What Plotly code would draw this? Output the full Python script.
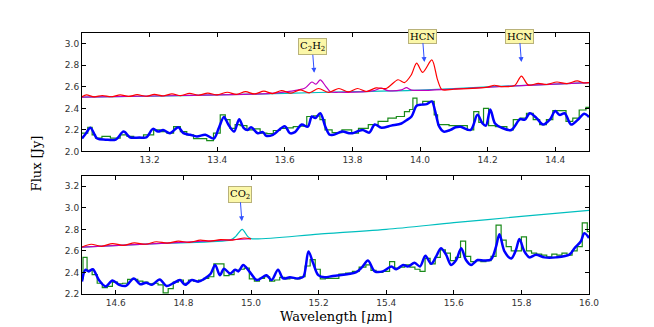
import plotly.graph_objects as go

# ---- top panel (13.0 - 14.5 um) ----
top_cont_wl = [13.0, 13.2, 13.4, 13.6, 13.8, 14.0, 14.2, 14.4, 14.5]
top_cont_fx = [2.505, 2.513, 2.525, 2.540, 2.555, 2.570, 2.600, 2.625, 2.640]

top_red_wl = [13.0, 13.013, 13.036, 13.06, 13.086, 13.113, 13.138, 13.163, 13.19, 13.214, 13.24,
              13.266, 13.292, 13.318, 13.345, 13.372, 13.40, 13.43, 13.457, 13.484, 13.51, 13.538,
              13.564, 13.59, 13.618, 13.645, 13.672, 13.70, 13.73, 13.76, 13.788, 13.815, 13.842,
              13.87, 13.90, 13.935, 13.954, 13.974, 13.99, 14.008, 14.035, 14.052, 14.065, 14.10,
              14.2, 14.22, 14.24, 14.28, 14.30, 14.32, 14.35, 14.375, 14.405, 14.435, 14.465, 14.485, 14.5]
top_red_fx = [2.508, 2.525, 2.507, 2.520, 2.508, 2.525, 2.511, 2.527, 2.513, 2.530, 2.515,
              2.535, 2.519, 2.540, 2.522, 2.542, 2.526, 2.550, 2.530, 2.555, 2.534, 2.560,
              2.538, 2.565, 2.542, 2.572, 2.545, 2.585, 2.549, 2.585, 2.553, 2.585, 2.557,
              2.590, 2.585, 2.666, 2.640, 2.710, 2.820, 2.734, 2.850, 2.665, 2.575, 2.578,
              2.598, 2.615, 2.603, 2.612, 2.700, 2.618, 2.632, 2.622, 2.645, 2.630, 2.655, 2.636, 2.640]

top_mag_wl = [13.0, 13.3, 13.5, 13.58, 13.62, 13.66, 13.68, 13.692, 13.705, 13.72, 13.735, 13.76,
              13.86, 13.885, 13.905, 13.945, 13.96, 13.975, 14.1, 14.3, 14.5]
top_mag_fx = [2.505, 2.52, 2.532, 2.545, 2.560, 2.590, 2.645, 2.625, 2.665, 2.610, 2.555, 2.550,
              2.562, 2.588, 2.565, 2.572, 2.592, 2.570, 2.580, 2.612, 2.640]

top_mod_wl = [13.0, 13.012, 13.025, 13.045, 13.07, 13.1, 13.123, 13.143, 13.17, 13.19, 13.21, 13.225,
              13.24, 13.26, 13.285, 13.30, 13.32, 13.34, 13.365, 13.39, 13.405, 13.42, 13.433, 13.45,
              13.465, 13.478, 13.49, 13.50, 13.52, 13.535, 13.545, 13.565, 13.60, 13.615, 13.63, 13.65,
              13.668, 13.68, 13.69, 13.705, 13.72, 13.733, 13.744, 13.77, 13.79, 13.80, 13.83, 13.85,
              13.866, 13.886, 13.915, 13.945, 13.96, 13.975, 13.99, 14.005, 14.02, 14.035, 14.044,
              14.057, 14.07, 14.09, 14.105, 14.12, 14.15, 14.17, 14.185, 14.195, 14.208, 14.222,
              14.242, 14.27, 14.296, 14.31, 14.325, 14.345, 14.364, 14.384, 14.40, 14.413, 14.428,
              14.447, 14.467, 14.486, 14.5]
top_mod_fx = [2.12, 2.17, 2.22, 2.12, 2.11, 2.11, 2.185, 2.13, 2.13, 2.13, 2.21, 2.185,
              2.20, 2.17, 2.225, 2.17, 2.155, 2.14, 2.155, 2.12, 2.22, 2.32, 2.25, 2.185,
              2.30, 2.22, 2.20, 2.225, 2.17, 2.18, 2.145, 2.155, 2.235, 2.17, 2.18, 2.25,
              2.23, 2.325, 2.31, 2.355, 2.23, 2.155, 2.155, 2.185, 2.17, 2.17, 2.20, 2.175,
              2.25, 2.22, 2.24, 2.26, 2.29, 2.325, 2.425, 2.435, 2.44, 2.465, 2.385,
              2.23, 2.185, 2.20, 2.225, 2.23, 2.20, 2.34, 2.26, 2.24, 2.39, 2.26,
              2.22, 2.20, 2.30, 2.295, 2.355, 2.31, 2.25, 2.295, 2.375, 2.34, 2.355,
              2.25, 2.295, 2.35, 2.32]

top_obs_edges = [13.0, 13.017, 13.03, 13.04, 13.059, 13.084, 13.113, 13.133, 13.153, 13.182, 13.212,
                 13.231, 13.251, 13.271, 13.291, 13.31, 13.33, 13.369, 13.389, 13.409, 13.424, 13.438,
                 13.453, 13.468, 13.488, 13.507, 13.527, 13.547, 13.566, 13.586, 13.606, 13.625,
                 13.645, 13.665, 13.685, 13.704, 13.719, 13.74, 13.769, 13.798, 13.818, 13.847,
                 13.876, 13.905, 13.93, 13.954, 13.969, 13.979, 13.991, 14.008, 14.042, 14.052,
                 14.086, 14.12, 14.14, 14.159, 14.174, 14.188, 14.203, 14.223, 14.257, 14.276,
                 14.296, 14.315, 14.335, 14.354, 14.374, 14.393, 14.413, 14.432, 14.452, 14.471,
                 14.491, 14.5]
top_obs_fx = [2.17, 2.225, 2.155, 2.125, 2.14, 2.125, 2.155, 2.14, 2.125, 2.155, 2.20,
              2.185, 2.17, 2.23, 2.185, 2.155, 2.12, 2.10, 2.17, 2.34, 2.295, 2.215,
              2.25, 2.24, 2.20, 2.21, 2.17, 2.165, 2.195, 2.215, 2.22, 2.23,
              2.235, 2.325, 2.33, 2.295, 2.20, 2.175, 2.20, 2.17, 2.215, 2.25,
              2.28, 2.31, 2.325, 2.37, 2.39, 2.495, 2.435, 2.465, 2.34, 2.25,
              2.24, 2.24, 2.20, 2.37, 2.27, 2.40, 2.24, 2.23, 2.20, 2.295,
              2.31, 2.355, 2.295, 2.25, 2.295, 2.38, 2.38, 2.28, 2.31, 2.385,
              2.41]

# ---- bottom panel (14.5 - 16.0 um) ----
bot_cont_wl = [14.5, 14.75, 14.94, 14.955, 14.974, 14.99, 15.0, 15.2, 15.4, 15.6, 15.8, 16.0]
bot_cont_fx = [2.635, 2.672, 2.702, 2.735, 2.800, 2.735, 2.714, 2.756, 2.800, 2.862, 2.920, 2.976]

bot_red_wl = [14.5, 14.527, 14.558, 14.59, 14.622, 14.655, 14.688, 14.72, 14.752, 14.785, 14.818,
              14.85, 14.88, 14.91, 14.945, 14.98, 15.0]
bot_red_fx = [2.636, 2.662, 2.643, 2.668, 2.652, 2.675, 2.662, 2.685, 2.672, 2.690, 2.680,
              2.700, 2.690, 2.705, 2.700, 2.720, 2.712]

bot_mag_wl = [14.5, 14.75, 15.0]
bot_mag_fx = [2.636, 2.673, 2.713]

bot_mod_wl = [14.5, 14.51, 14.52, 14.532, 14.55, 14.57, 14.59, 14.61, 14.63, 14.653, 14.672, 14.69,
              14.707, 14.73, 14.75, 14.77, 14.79, 14.805, 14.825, 14.845, 14.864, 14.88, 14.894,
              14.908, 14.92, 14.938, 14.953, 14.963, 14.977, 14.995, 15.017, 15.036, 15.046, 15.061,
              15.08, 15.095, 15.115, 15.14, 15.155, 15.17, 15.184, 15.199, 15.218, 15.242, 15.31,
              15.33, 15.346, 15.366, 15.39, 15.415, 15.43, 15.45, 15.464, 15.484, 15.5, 15.516,
              15.533, 15.548, 15.562, 15.577, 15.592, 15.607, 15.622, 15.636, 15.651, 15.67, 15.69,
              15.71, 15.725, 15.735, 15.75, 15.77, 15.784, 15.794, 15.809, 15.824, 15.843, 15.868,
              15.902, 15.942, 15.957, 15.976, 15.986, 16.0]
bot_mod_fx = [2.315, 2.425, 2.41, 2.43, 2.33, 2.27, 2.325, 2.285, 2.275, 2.345, 2.29, 2.305,
              2.285, 2.335, 2.275, 2.30, 2.33, 2.285, 2.33, 2.315, 2.345, 2.385, 2.47,
              2.375, 2.435, 2.39, 2.425, 2.41, 2.47, 2.41, 2.33, 2.36, 2.375, 2.33,
              2.425, 2.345, 2.355, 2.345, 2.36, 2.595, 2.485, 2.375, 2.355, 2.368, 2.40,
              2.455, 2.51, 2.41, 2.41, 2.455, 2.43, 2.47, 2.455, 2.49, 2.455, 2.555,
              2.48, 2.55, 2.625, 2.565, 2.47, 2.515, 2.625, 2.515, 2.47, 2.515, 2.51,
              2.52, 2.64, 2.755, 2.595, 2.53, 2.61, 2.71, 2.595, 2.54, 2.565, 2.54,
              2.54, 2.565, 2.625, 2.69, 2.765, 2.72]

bot_obs_edges = [14.5, 14.503, 14.515, 14.53, 14.545, 14.56, 14.575, 14.59, 14.605, 14.62, 14.635,
                 14.65, 14.665, 14.68, 14.695, 14.71, 14.725, 14.74, 14.755, 14.77, 14.785, 14.80,
                 14.815, 14.83, 14.845, 14.86, 14.875, 14.89, 14.905, 14.92, 14.935, 14.95, 14.965,
                 14.98, 14.995, 15.01, 15.025, 15.04, 15.055, 15.07, 15.085, 15.10, 15.115, 15.13,
                 15.145, 15.16, 15.175, 15.19, 15.205, 15.22, 15.26, 15.28, 15.30, 15.32, 15.34,
                 15.355, 15.37, 15.39, 15.41, 15.425, 15.44, 15.455, 15.47, 15.485, 15.50, 15.515,
                 15.53, 15.545, 15.56, 15.575, 15.59, 15.605, 15.62, 15.635, 15.65, 15.665, 15.68,
                 15.695, 15.71, 15.725, 15.74, 15.755, 15.77, 15.785, 15.80, 15.815, 15.83, 15.845,
                 15.86, 15.875, 15.89, 15.905, 15.92, 15.935, 15.95, 15.965, 15.98, 15.995, 16.0]
bot_obs_fx = [2.34, 2.54, 2.42, 2.38, 2.30, 2.26, 2.27, 2.31, 2.295, 2.30, 2.335,
              2.335, 2.32, 2.31, 2.295, 2.30, 2.285, 2.21, 2.25, 2.31, 2.33, 2.30,
              2.33, 2.32, 2.33, 2.345, 2.36, 2.48, 2.48, 2.37, 2.38, 2.42, 2.43,
              2.44, 2.34, 2.32, 2.345, 2.36, 2.32, 2.33, 2.355, 2.34, 2.35, 2.34,
              2.36, 2.46, 2.52, 2.43, 2.34, 2.345, 2.385, 2.395, 2.41, 2.45, 2.47,
              2.42, 2.40, 2.41, 2.50, 2.44, 2.45, 2.47, 2.45, 2.43, 2.41, 2.53,
              2.48, 2.54, 2.61, 2.58, 2.51, 2.54, 2.69, 2.55, 2.50, 2.51, 2.50,
              2.51, 2.55, 2.84, 2.70, 2.64, 2.60, 2.60, 2.73, 2.60, 2.58, 2.57,
              2.56, 2.545, 2.57, 2.56, 2.58, 2.56, 2.60, 2.64, 2.86, 2.78]

# molecule labels: (text, wavelength of arrow tip, flux of arrow tip, panel)
mol_text = ["C<sub>2</sub>H<sub>2</sub>", "HCN", "HCN", "CO<sub>2</sub>"]
mol_wl = [13.687, 14.013, 14.30, 14.973]
mol_fx = [2.73, 2.83, 2.83, 2.875]
mol_panel = [1, 1, 1, 2]

C_CYAN, C_MAG, C_RED = "#00bfbf", "#bf00bf", "#ff0000"
C_OBS, C_MOD = "#1a8a1a", "#0000ff"

fig = go.Figure()


def add_panel(ax, cont, red, mag, mod, obs):
    xa, ya = ("x", "y") if ax == 1 else ("x2", "y2")
    fig.add_trace(go.Scatter(x=cont[0], y=cont[1], mode="lines", xaxis=xa, yaxis=ya,
                             line=dict(color=C_CYAN, width=1.2, shape="spline", smoothing=0.8)))
    fig.add_trace(go.Scatter(x=mag[0], y=mag[1], mode="lines", xaxis=xa, yaxis=ya,
                             line=dict(color=C_MAG, width=1.2, shape="spline", smoothing=0.8)))
    fig.add_trace(go.Scatter(x=red[0], y=red[1], mode="lines", xaxis=xa, yaxis=ya,
                             line=dict(color=C_RED, width=1.2, shape="spline", smoothing=0.8)))
    fig.add_trace(go.Scatter(x=obs[0], y=list(obs[1]) + [obs[1][-1]], mode="lines",
                             xaxis=xa, yaxis=ya, line=dict(color=C_OBS, width=1.2, shape="hv")))
    fig.add_trace(go.Scatter(x=mod[0], y=mod[1], mode="lines", xaxis=xa, yaxis=ya,
                             line=dict(color=C_MOD, width=2.5, shape="spline", smoothing=0.9)))


add_panel(1, (top_cont_wl, top_cont_fx), (top_red_wl, top_red_fx), (top_mag_wl, top_mag_fx),
          (top_mod_wl, top_mod_fx), (top_obs_edges, top_obs_fx))
add_panel(2, (bot_cont_wl, bot_cont_fx), (bot_red_wl, bot_red_fx), (bot_mag_wl, bot_mag_fx),
          (bot_mod_wl, bot_mod_fx), (bot_obs_edges, bot_obs_fx))

for t, wl, fx, p in zip(mol_text, mol_wl, mol_fx, mol_panel):
    fig.add_annotation(x=wl, y=fx, xref="x" if p == 1 else "x2", yref="y" if p == 1 else "y2",
                       text=t, showarrow=True, ax=-2, ay=-26 if p == 1 else -27,
                       arrowhead=2, arrowsize=1, arrowwidth=1, arrowcolor="#3050ff",
                       bgcolor="#fbf7a8", bordercolor="#b9b27a", borderwidth=1, borderpad=1,
                       font=dict(family="DejaVu Serif", size=10, color="black"))

axis_common = dict(showline=True, linecolor="black", linewidth=1, mirror="ticks",
                   ticks="inside", ticklen=4, tickcolor="black", showgrid=False, zeroline=False,
                   tickfont=dict(family="DejaVu Sans", size=9, color="#333333"))

# the page adds an 8px body margin, so the margins below are shifted by 8px
fig.add_annotation(text="Flux [Jy]", xref="paper", yref="paper", x=-0.089, y=0.5,
                   xanchor="center", yanchor="middle", textangle=-90, showarrow=False,
                   font=dict(family="DejaVu Serif", size=13, color="black"))
fig.add_annotation(text="Wavelength [<i>μ</i>m]", xref="paper", yref="paper", x=0.5, y=-0.085,
                   xanchor="center", yanchor="middle", showarrow=False,
                   font=dict(family="DejaVu Serif", size=13, color="black"))

fig.update_layout(
    width=654, height=327,
    margin=dict(l=74, r=73, t=25, b=41),
    plot_bgcolor="white", paper_bgcolor="white",
    showlegend=False,
    xaxis=dict(domain=[0, 1], range=[13.0, 14.5], anchor="y",
               tickvals=[13.2, 13.4, 13.6, 13.8, 14.0, 14.2, 14.4],
               ticktext=["13.2", "13.4", "13.6", "13.8", "14.0", "14.2", "14.4"], **axis_common),
    yaxis=dict(domain=[0.546, 1], range=[2.0, 3.1], anchor="x",
               tickvals=[2.0, 2.2, 2.4, 2.6, 2.8, 3.0], tickformat=".1f", **axis_common),
    xaxis2=dict(domain=[0, 1], range=[14.5, 16.0], anchor="y2",
                tickvals=[14.6, 14.8, 15.0, 15.2, 15.4, 15.6, 15.8, 16.0], tickformat=".1f",
                **axis_common),
    yaxis2=dict(domain=[0, 0.454], range=[2.2, 3.3], anchor="x2",
                tickvals=[2.2, 2.4, 2.6, 2.8, 3.0, 3.2], tickformat=".1f", **axis_common),
)

fig.write_html("out.html")
